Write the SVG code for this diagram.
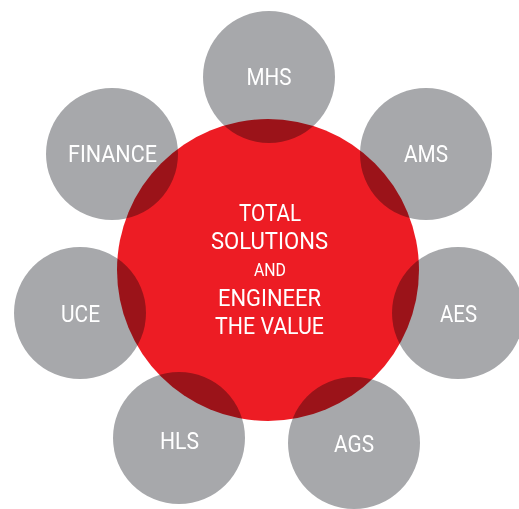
<svg xmlns="http://www.w3.org/2000/svg" width="519" height="509" viewBox="0 0 519 509">
<style>
.bg{fill:#ffffff}
.core{fill:#ed1c24}
.sat{fill:#a7a8ab;mix-blend-mode:multiply}
.lbl{font-family:Roboto,"Liberation Sans",sans-serif;font-size:24px;fill:#ffffff;text-anchor:middle}
.sm{font-size:18px}
</style>
<rect class="bg" x="0" y="0" width="519" height="509"/>
<g id="core">
<circle class="core" cx="268" cy="270" r="151"/>
<text class="lbl" x="270" y="221" textLength="62" lengthAdjust="spacingAndGlyphs">TOTAL</text>
<text class="lbl" x="269.5" y="249" textLength="117" lengthAdjust="spacingAndGlyphs">SOLUTIONS</text>
<text class="lbl sm" x="270" y="276" textLength="32" lengthAdjust="spacingAndGlyphs">AND</text>
<text class="lbl" x="269.5" y="306" textLength="103" lengthAdjust="spacingAndGlyphs">ENGINEER</text>
<text class="lbl" x="269.5" y="334" textLength="109" lengthAdjust="spacingAndGlyphs">THE VALUE</text>
</g>
<g id="mhs"><circle class="sat" cx="269" cy="77" r="66"/><text class="lbl" x="269" y="85" textLength="45" lengthAdjust="spacingAndGlyphs">MHS</text></g>
<g id="finance"><circle class="sat" cx="112" cy="154" r="66"/><text class="lbl" x="112.5" y="162" textLength="89" lengthAdjust="spacingAndGlyphs">FINANCE</text></g>
<g id="ams"><circle class="sat" cx="426" cy="154" r="66"/><text class="lbl" x="426" y="162" textLength="44" lengthAdjust="spacingAndGlyphs">AMS</text></g>
<g id="uce"><circle class="sat" cx="80" cy="313" r="66"/><text class="lbl" x="80.5" y="322" textLength="39" lengthAdjust="spacingAndGlyphs">UCE</text></g>
<g id="aes"><circle class="sat" cx="458" cy="313" r="66"/><text class="lbl" x="458.5" y="322" textLength="37" lengthAdjust="spacingAndGlyphs">AES</text></g>
<g id="hls"><circle class="sat" cx="179" cy="438" r="66"/><text class="lbl" x="179.5" y="449" textLength="39" lengthAdjust="spacingAndGlyphs">HLS</text></g>
<g id="ags"><circle class="sat" cx="354" cy="443" r="66"/><text class="lbl" x="354" y="452" textLength="40" lengthAdjust="spacingAndGlyphs">AGS</text></g>
</svg>
